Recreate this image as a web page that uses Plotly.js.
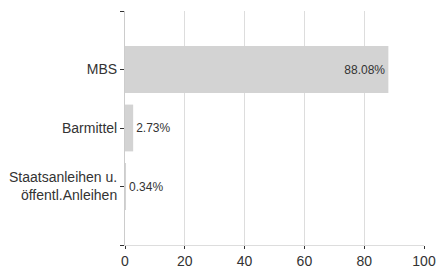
<!DOCTYPE html>
<html>
<head>
<meta charset="utf-8">
<script src="https://cdn.plot.ly/plotly-3.0.1.min.js"></script>
<style>html,body{margin:0;padding:0;background:#fff;}#chart{width:436px;height:272px;}</style>
</head>
<body>
<div id="chart"></div>
<script>
var categories = ['MBS', 'Barmittel', 'Staatsanleihen u.<br>öffentl.Anleihen'];
var values = [88.08, 2.73, 0.34];
var valueLabels = ['88.08%', '2.73%', '0.34%'];
var xTicks = [0, 20, 40, 60, 80, 100];

var pos = categories.map(function (c, i) { return i; });

var trace = {
  type: 'bar',
  orientation: 'h',
  x: values,
  y: pos,
  width: 0.8,
  marker: {color: '#d3d3d3'},
  text: valueLabels,
  textposition: values.map(function (v) { return v > 20 ? 'inside' : 'outside'; }),
  insidetextanchor: 'end',
  textangle: 0,
  constraintext: 'none',
  cliponaxis: false,
  textfont: {family: 'Liberation Sans, Arial, sans-serif', size: 12, color: '#333'},
  insidetextfont: {family: 'Liberation Sans, Arial, sans-serif', size: 12, color: '#333'},
  outsidetextfont: {family: 'Liberation Sans, Arial, sans-serif', size: 12, color: '#333'},
  hoverinfo: 'none'
};

var layout = {
  width: 436,
  height: 272,
  margin: {l: 125, r: 12, t: 11, b: 27},
  paper_bgcolor: '#fff',
  plot_bgcolor: '#fff',
  showlegend: false,
  font: {family: 'Liberation Sans, Arial, sans-serif', size: 14, color: '#333'},
  xaxis: {
    range: [0, 100],
    tickvals: xTicks,
    ticktext: xTicks.map(String),
    showgrid: true,
    gridcolor: '#dddddd',
    gridwidth: 1,
    zeroline: false,
    showline: true,
    linecolor: '#dddddd',
    linewidth: 1,
    ticks: 'outside',
    ticklen: 3,
    tickcolor: '#333',
    tickfont: {size: 14, color: '#333'},
    fixedrange: true
  },
  yaxis: {
    range: [3, -1],
    tickvals: [-1].concat(pos, [categories.length]),
    ticktext: [''].concat(categories, ['']),
    showgrid: false,
    zeroline: false,
    showline: true,
    linecolor: '#cccccc',
    linewidth: 1,
    ticks: 'outside',
    ticklen: 4,
    tickcolor: '#333',
    tickfont: {size: 14, color: '#333'},
    fixedrange: true
  },
  bargap: 0.2
};

Plotly.newPlot('chart', [trace], layout, {displayModeBar: false, staticPlot: true});
</script>
</body>
</html>
